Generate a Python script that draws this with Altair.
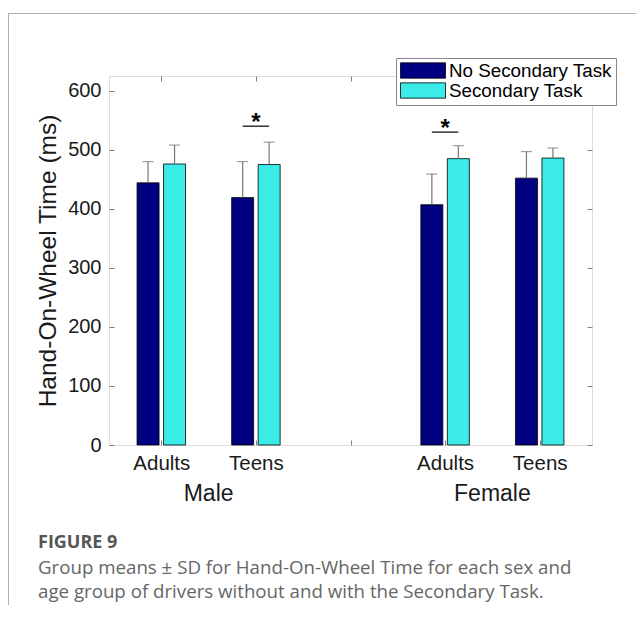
import altair as alt
import pandas as pd

# ---------------- data ----------------
sexes = ["Male", "Male", "Female", "Female"]
ages = ["Adults", "Teens", "Adults", "Teens"]
group_pos = [1, 2, 4, 5]
no_task_mean = [444, 419, 407, 452]
no_task_sd = [36, 61, 52, 45]
task_mean = [476, 475, 485, 486]
task_sd = [32, 38, 22, 17]
series_names = ["No Secondary Task", "Secondary Task"]
series_colors = ["#000080", "#3BEBE8"]
sig_pos = [2, 4]
sig_level = [540, 530]
sex_labels = ["Male", "Female"]
sex_centers = [1.5, 4.5]
y_ticks = [0, 100, 200, 300, 400, 500, 600]
caption_head = "FIGURE 9"
caption_lines = [
    "Group means \u00b1 SD for Hand-On-Wheel Time for each sex and",
    "age group of drivers without and with the Secondary Task.",
]

W, H = 483, 369
PAD_L, PAD_T, PAD_R, PAD_B = 101, 68, 44, 160
OFF = 0.14  # bar offset within group (x units)

rows = []
for i in range(len(group_pos)):
    rows.append(dict(pos=group_pos[i], sex=sexes[i], age=ages[i], series=series_names[0],
                     mean=no_task_mean[i], hi=no_task_mean[i] + no_task_sd[i], side=-1))
    rows.append(dict(pos=group_pos[i], sex=sexes[i], age=ages[i], series=series_names[1],
                     mean=task_mean[i], hi=task_mean[i] + task_sd[i], side=1))
df = pd.DataFrame(rows)
sig_df = pd.DataFrame(dict(pos=sig_pos, level=sig_level))
sex_df = pd.DataFrame(dict(label=sex_labels, c=sex_centers))
cap_df = pd.DataFrame(dict(text=caption_lines, line=[0, 1]))
one = pd.DataFrame(dict(a=[0]))

XS = alt.Scale(domain=[0.5, 5.5], nice=False, zero=False)
YS = alt.Scale(domain=[0, 625], nice=False)
AX_COL = "#808080"
TXT = "#1a1a1a"
FONT = "Liberation Sans"

lab_expr = "datum.value == 1 || datum.value == 4 ? 'Adults' : (datum.value == 2 || datum.value == 5 ? 'Teens' : '')"

def tick_axis(orient, offset, values):
    return alt.Axis(orient=orient, offset=offset, labels=False, domain=False, grid=False,
                    ticks=True, tickSize=5, tickColor=AX_COL, tickWidth=1, values=values, title=None)

base = alt.Chart(df).transform_calculate(xc=f"datum.pos + datum.side * {OFF}")

bars = base.mark_bar(width=22, stroke="#000000", strokeWidth=0.8).encode(
    x=alt.X("xc:Q", scale=XS,
            axis=alt.Axis(orient="bottom", values=[1, 2, 4, 5], labelExpr=lab_expr, ticks=False,
                          domain=False, grid=False, labelFontSize=20.5, labelFont=FONT,
                          labelColor=TXT, labelPadding=8, title=None, labelFlush=False)),
    y=alt.Y("mean:Q", scale=YS,
            axis=alt.Axis(orient="left", values=y_ticks, ticks=False, domain=False, grid=False,
                          labelFontSize=20, labelFont=FONT, labelColor=TXT, labelPadding=8,
                          title="Hand-On-Wheel Time (ms)", titleFontSize=24.5, titleFont=FONT,
                          titleFontWeight="normal", titleColor=TXT, titlePadding=7)),
    fill=alt.Fill("series:N", scale=alt.Scale(domain=series_names, range=series_colors),
                  legend=alt.Legend(orient="none", legendX=287, legendY=-18, title=None,
                                    symbolType="M-1,-0.34H1V0.34H-1Z", symbolSize=2025,
                                    symbolStrokeColor="#000000", symbolStrokeWidth=0.8,
                                    symbolOpacity=1, clipHeight=17, rowPadding=0,
                                    labelFontSize=18.8, labelFont=FONT, labelColor="#000000",
                                    labelLimit=400, labelOffset=3, padding=4,
                                    fillColor="#ffffff", strokeColor="#888888", symbolOffset=0)),
)

err = base.mark_rule(color="#777777", strokeWidth=1.2).encode(
    x=alt.X("xc:Q", scale=XS, axis=tick_axis("top", -H, [1, 2, 3, 4, 5])),
    y=alt.Y("mean:Q", scale=YS, axis=tick_axis("right", -W, y_ticks)),
    y2="hi:Q",
)

caps = base.mark_tick(orient="horizontal", size=11, thickness=1.2, color="#777777").encode(
    x=alt.X("xc:Q", scale=XS, axis=tick_axis("bottom", -H, [1, 2, 3, 4, 5])),
    y=alt.Y("hi:Q", scale=YS, axis=tick_axis("left", -W, y_ticks)),
)

sig_base = alt.Chart(sig_df).transform_calculate(
    x1=f"datum.pos - {OFF}", x2=f"datum.pos + {OFF}")
sig_rule = sig_base.mark_rule(color="#000000", strokeWidth=1.2).encode(
    x=alt.X("x1:Q", scale=XS, axis=None), x2="x2:Q",
    y=alt.Y("level:Q", scale=YS, axis=None),
)
stars = sig_base.mark_text(text="*", fontSize=24, font=FONT, fontWeight="bold", color="#000000",
                           baseline="alphabetic", dy=4).encode(
    x=alt.X("pos:Q", scale=XS, axis=None),
    y=alt.Y("level:Q", scale=YS, axis=None),
)

sex_text = alt.Chart(sex_df).mark_text(fontSize=23, font=FONT, color=TXT, baseline="middle").encode(
    x=alt.X("c:Q", scale=XS, axis=None),
    y=alt.value(H + 49),
    text="label:N",
)

cap_head = alt.Chart(one).mark_text(text=caption_head, fontSize=18, font="Open Sans",
                                    fontWeight="bold", color="#555555", align="left",
                                    baseline="middle").encode(
    x=alt.value(-71), y=alt.value(467))
cap_text = alt.Chart(cap_df).mark_text(fontSize=18.7, font="Open Sans", color="#666666",
                                       align="left", baseline="middle").encode(
    x=alt.value(-71), y=alt.Y("line:Q", scale=alt.Scale(domain=[0, 1], range=[492, 516]), axis=None),
    text="text:N")

border_left = alt.Chart(one).mark_rule(color="#b0b0b0", strokeWidth=1).encode(
    x=alt.value(-100.5), y=alt.value(-63), y2=alt.value(H + PAD_B))
border_top = alt.Chart(one).mark_rule(color="#b0b0b0", strokeWidth=1).encode(
    x=alt.value(-100.5), x2=alt.value(W + PAD_R), y=alt.value(-62.5))

chart = alt.layer(
    border_left, border_top, bars, err, caps, sig_rule, stars, sex_text, cap_head, cap_text
).resolve_scale(y="independent").resolve_axis(x="independent", y="independent").properties(
    width=W, height=H,
    autosize=alt.AutoSizeParams(type="none"),
    padding={"left": PAD_L, "top": PAD_T, "right": PAD_R, "bottom": PAD_B},
).configure_view(stroke=AX_COL, strokeWidth=1).configure(background="#ffffff")

chart.save("out.html", embed_options={"renderer": "svg", "actions": False})
